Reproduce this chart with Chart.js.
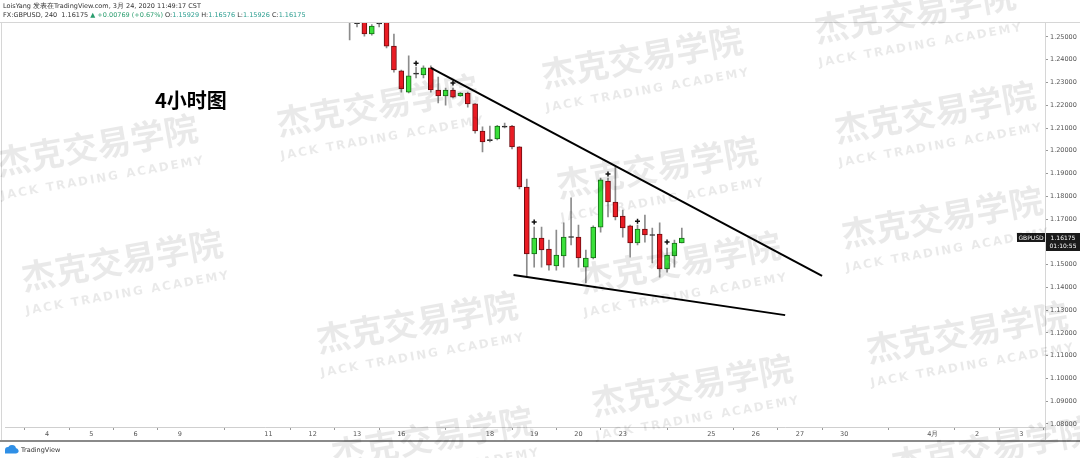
<!DOCTYPE html>
<html>
<head>
<meta charset="utf-8">
<script src="https://cdn.jsdelivr.net/npm/chart.js@4.4.0/dist/chart.umd.min.js"></script>
<style>
  html, body { margin: 0; padding: 0; background: #fff; }
  canvas { display: block; }
</style>
</head>
<body>
<canvas id="chart" width="1080" height="458"></canvas>
<script>
// trading days on the time axis, six 4-hour bars each ('' = day not labelled)
const dayLabels = ['4', '5', '6', '9', '', '11', '12', '13', '16', '', '18', '19', '20', '23', '', '25', '26', '27', '30', '', '4月', '2', '3'];
const barsPerDay = 6;
const firstBar = 41;

// GBPUSD 4H candles
const open  = [1.2640, 1.2560, 1.2566, 1.2513, 1.2558, 1.2566, 1.2460, 1.2351, 1.2258, 1.2337,
               1.2333, 1.2364, 1.2267, 1.2241, 1.2267, 1.2241, 1.2254, 1.2206, 1.2087, 1.2047,
               1.2052, 1.2105, 1.2109, 1.2017, 1.1841, 1.1547, 1.1617, 1.1568, 1.1494, 1.1538,
               1.1621, 1.1621, 1.1489, 1.1529, 1.1665, 1.1867, 1.1775, 1.1713, 1.1670, 1.1595,
               1.1656, 1.1630, 1.1634, 1.1481, 1.1538, 1.1595];
const high  = [1.2660, 1.2575, 1.2572, 1.2555, 1.2575, 1.2575, 1.2513, 1.2355, 1.2417, 1.2368,
               1.2373, 1.2373, 1.2324, 1.2276, 1.2276, 1.2256, 1.2258, 1.2208, 1.2105, 1.2109,
               1.2112, 1.2122, 1.2112, 1.2019, 1.1876, 1.1665, 1.1665, 1.1608, 1.1652, 1.1683,
               1.1793, 1.1674, 1.1564, 1.1670, 1.1880, 1.1880, 1.1933, 1.1740, 1.1674, 1.1674,
               1.1718, 1.1661, 1.1683, 1.1573, 1.1608, 1.1661];
const low   = [1.2487, 1.2544, 1.2504, 1.2508, 1.2544, 1.2452, 1.2346, 1.2258, 1.2254, 1.2320,
               1.2320, 1.2258, 1.2210, 1.2201, 1.2232, 1.2239, 1.2192, 1.2078, 1.1995, 1.2039,
               1.2048, 1.2100, 1.2008, 1.1832, 1.1450, 1.1489, 1.1489, 1.1476, 1.1476, 1.1489,
               1.1586, 1.1489, 1.1419, 1.1525, 1.1643, 1.1709, 1.1696, 1.1621, 1.1533, 1.1586,
               1.1599, 1.1507, 1.1445, 1.1467, 1.1489, 1.1595];
const close = [1.2600, 1.2559, 1.2513, 1.2548, 1.2557, 1.2460, 1.2355, 1.2272, 1.2329, 1.2339,
               1.2364, 1.2267, 1.2241, 1.2267, 1.2236, 1.2254, 1.2206, 1.2087, 1.2039, 1.2045,
               1.2109, 1.2104, 1.2017, 1.1841, 1.1547, 1.1617, 1.1564, 1.1498, 1.1542, 1.1621,
               1.1619, 1.1529, 1.1529, 1.1665, 1.1872, 1.1775, 1.1709, 1.1661, 1.1595, 1.1656,
               1.1630, 1.1628, 1.1481, 1.1542, 1.1595, 1.1617];

// small "+" marks above some candles
const markBars   = [50, 55, 66, 76, 80, 84];
const markPrices = [1.2385, 1.2298, 1.1687, 1.1898, 1.1691, 1.1599];

// hand-drawn trend lines (bar index, price)
const upperLine = [{ x: 52, y: 1.2364 }, { x: 105, y: 1.1450 }];
const lowerLine = [{ x: 63.2, y: 1.1454 }, { x: 100, y: 1.1278 }];

const lastPrice = 1.16175;

const bars = open.map((o, i) => firstBar + i);
const bodies = bars.map((x, i) => ({ x: x, y: [Math.min(open[i], close[i]), Math.max(open[i], close[i])] }));
const wicks = bars.map((x, i) => ({ x: x, y: [low[i], high[i]] }));
const marks = markBars.map((x, i) => ({ x: x, y: markPrices[i] }));

function bodyColor(i) {
  if (Math.abs(open[i] - close[i]) < 0.0004) return '#222';
  return close[i] > open[i] ? '#3ae03a' : '#ea1c24';
}
function edgeColor(i) {
  if (Math.abs(open[i] - close[i]) < 0.0004) return '#222';
  return close[i] > open[i] ? '#176b17' : '#6e0c10';
}

const stamps = [[97, 145], [377, 105], [642, 57], [915, 12], [122, 260], [657, 167], [935, 112],
                [417, 322], [680, 262], [942, 217], [692, 385], [967, 332], [432, 437], [992, 447]];

const overlay = {
  id: 'overlay',
  afterDraw(chart) {
    const ctx = chart.ctx;
    const area = chart.chartArea;
    const yScale = chart.scales.y;
    ctx.save();

    // frame lines
    ctx.strokeStyle = '#d6d6d6';
    ctx.lineWidth = 1;
    ctx.beginPath();
    ctx.moveTo(0, 22.5); ctx.lineTo(1080, 22.5);
    ctx.moveTo(1.5, 22); ctx.lineTo(1.5, 440);
    ctx.moveTo(1045.5, 22); ctx.lineTo(1045.5, 440);
    ctx.stroke();
    ctx.strokeStyle = '#8a8a8a';
    ctx.lineWidth = 2;
    ctx.beginPath();
    ctx.moveTo(0, 441); ctx.lineTo(1080, 441);
    ctx.stroke();

    // header
    ctx.textBaseline = 'middle';
    ctx.textAlign = 'left';
    ctx.font = '6.5px "DejaVu Sans"';
    ctx.fillStyle = '#333';
    ctx.fillText('LoisYang 发表在TradingView.com, 3月 24, 2020 11:49:17 CST', 3, 6);
    const parts = [
      ['FX:GBPUSD, 240  1.16175 ', '#333'], ['▲ +0.00769 (+0.67%) ', '#2a9d6e'],
      ['O:', '#333'], ['1.15929 ', '#2a9d8f'], ['H:', '#333'], ['1.16576 ', '#2a9d8f'],
      ['L:', '#333'], ['1.15926 ', '#2a9d8f'], ['C:', '#333'], ['1.16175', '#2a9d8f']
    ];
    let x = 3;
    parts.forEach(p => {
      ctx.fillStyle = p[1];
      ctx.fillText(p[0], x, 15.5);
      x += ctx.measureText(p[0]).width;
    });

    // title
    ctx.fillStyle = '#000';
    ctx.font = 'bold 20px "Noto Sans CJK SC"';
    ctx.fillText('4小时图', 155, 100);

    // last price labels
    const py = Math.round(yScale.getPixelForValue(lastPrice));
    ctx.fillStyle = '#1a1a1a';
    ctx.fillRect(1017, py - 5, 28, 9);
    ctx.fillRect(1046, py - 5, 34, 9);
    ctx.fillRect(1046, py + 4, 34, 9);
    ctx.fillStyle = '#fff';
    ctx.font = '6px "DejaVu Sans"';
    ctx.textAlign = 'center';
    ctx.fillText('GBPUSD', 1031, py);
    ctx.fillText(lastPrice.toFixed(5), 1063, py);
    ctx.fillText('01:10:55', 1063, py + 8.5);

    // footer logo
    ctx.fillStyle = '#2f8fe6';
    ctx.beginPath();
    ctx.arc(8, 450, 3, Math.PI, 0);
    ctx.arc(12, 449, 4, Math.PI, 0);
    ctx.arc(16, 451, 2.5, Math.PI * 1.3, Math.PI * 0.5);
    ctx.lineTo(5, 453.5);
    ctx.closePath();
    ctx.fill();
    ctx.fillStyle = '#333';
    ctx.textAlign = 'left';
    ctx.font = '6.5px "DejaVu Sans"';
    ctx.fillText('TradingView', 21, 450);

    // watermarks
    stamps.forEach(s => {
      ctx.save();
      ctx.translate(s[0], s[1]);
      ctx.rotate(-10 * Math.PI / 180);
      ctx.textAlign = 'center';
      ctx.fillStyle = 'rgba(0,0,0,0.085)';
      ctx.font = 'bold 34px "Noto Sans CJK SC"';
      ctx.fillText('杰克交易学院', 0, 0);
      ctx.font = 'bold 12px "DejaVu Sans"';
      ctx.letterSpacing = '2px';
      ctx.fillText('JACK TRADING ACADEMY', 0, 34);
      ctx.restore();
    });
    ctx.restore();
  }
};

new Chart(document.getElementById('chart'), {
  type: 'bar',
  data: {
    datasets: [
      {
        type: 'line',
        data: upperLine,
        borderColor: '#000',
        borderWidth: 2,
        pointRadius: 0,
        order: 0
      },
      {
        type: 'line',
        data: lowerLine,
        borderColor: '#000',
        borderWidth: 2,
        pointRadius: 0,
        order: 0
      },
      {
        type: 'scatter',
        data: marks,
        pointStyle: 'cross',
        pointRadius: 2.5,
        borderColor: '#111',
        borderWidth: 1.5,
        order: 0
      },
      {
        data: bodies,
        backgroundColor: bars.map((b, i) => bodyColor(i)),
        borderColor: bars.map((b, i) => edgeColor(i)),
        borderWidth: 1,
        borderSkipped: false,
        barThickness: 5,
        minBarLength: 1,
        grouped: false,
        clip: 0,
        order: 1
      },
      {
        data: wicks,
        backgroundColor: '#8c8c8c',
        borderWidth: 0,
        barThickness: 1,
        grouped: false,
        clip: 0,
        order: 2
      }
    ]
  },
  options: {
    responsive: false,
    animation: false,
    devicePixelRatio: 1,
    layout: { padding: { top: 23, bottom: 18, left: 0, right: 0 } },
    plugins: {
      legend: false,
      tooltip: { enabled: false }
    },
    scales: {
      x: {
        type: 'linear',
        offset: false,
        min: -5.62,
        max: 135.2,
        afterFit: s => { s.height = 13; },
        afterBuildTicks: s => {
          s.ticks = dayLabels
            .map((l, i) => ({ value: i * barsPerDay, label: l }))
            .filter(t => t.label);
        },
        grid: { drawOnChartArea: false, tickLength: 3, tickColor: '#9a9a9a' },
        border: { color: '#cfcfcf' },
        ticks: {
          autoSkip: false,
          maxRotation: 0,
          padding: 0,
          color: '#555',
          font: { size: 6.5, family: 'DejaVu Sans' },
          callback: v => dayLabels[Math.round(v / barsPerDay)]
        }
      },
      y: {
        position: 'right',
        min: 1.07865,
        max: 1.25615,
        afterFit: s => { s.width = 35; },
        grid: { drawOnChartArea: false, tickLength: 3, tickColor: '#9a9a9a' },
        border: { color: '#cfcfcf' },
        ticks: {
          stepSize: 0.01,
          includeBounds: false,
          padding: 2,
          color: '#555',
          font: { size: 6.5, family: 'DejaVu Sans' },
          callback: v => v.toFixed(5)
        }
      }
    }
  },
  plugins: [overlay]
});
</script>
</body>
</html>
